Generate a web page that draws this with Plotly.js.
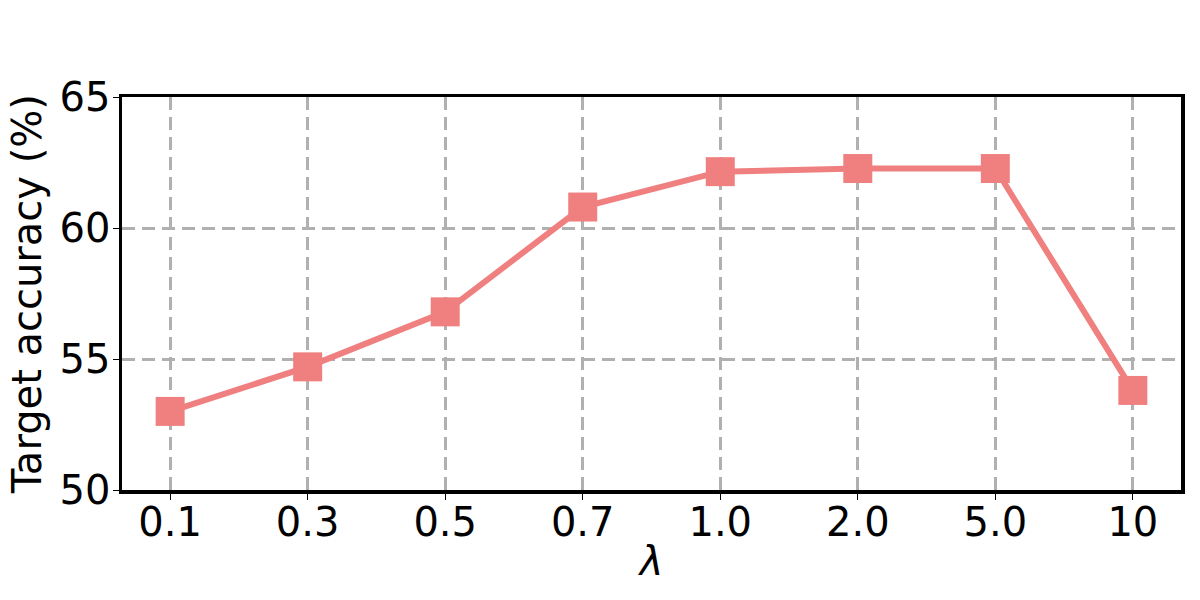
<!DOCTYPE html>
<html><head><meta charset="utf-8">
<script src="https://cdn.plot.ly/plotly-3.0.1.min.js"></script>
<style>html,body{margin:0;padding:0;background:#fff}#c{width:1200px;height:600px}</style>
</head><body><div id="c"></div>
<script>
const lambdas = ["0.1","0.3","0.5","0.7","1.0","2.0","5.0","10"];
const accuracy = [53.0, 54.7, 56.8, 60.8, 62.15, 62.27, 62.27, 53.8];
const yTicks = [50, 55, 60, 65];

const xIdx = lambdas.map((_, i) => i);
const trace = {
  x: xIdx, y: accuracy, type: 'scatter', mode: 'lines+markers',
  line: {color: '#F08080', width: 6},
  marker: {symbol: 'square', size: 29, color: '#F08080'},
  cliponaxis: false, showlegend: false
};
const font = {family: 'DejaVu Sans', size: 40, color: '#000'};
const layout = {
  width: 1200, height: 600,
  margin: {l: 122, r: 19, t: 97, b: 110},
  paper_bgcolor: '#fff', plot_bgcolor: '#fff',
  font: font,
  xaxis: {
    range: [-0.35, 7.35], tickvals: xIdx, ticktext: lambdas,
    showgrid: true, gridcolor: '#b0b0b0', gridwidth: 3, griddash: '13px,7px',
    showline: true, linecolor: '#000', linewidth: 3.5, mirror: true,
    ticks: 'outside', ticklen: 6, tickwidth: 1, tickcolor: '#000',
    ticklabelstandoff: -12,
    tickfont: font, zeroline: false,
    title: {text: '<i>λ</i>', font: {family: 'DejaVu Sans', size: 40, color: '#000'}, standoff: 4}
  },
  yaxis: {
    range: [50, 65], tickvals: yTicks,
    showgrid: true, gridcolor: '#b0b0b0', gridwidth: 3, griddash: '13px,7px',
    showline: true, linecolor: '#000', linewidth: 3.5, mirror: true,
    ticks: 'outside', ticklen: 6, tickwidth: 1, tickcolor: '#000',
    ticklabelstandoff: -6,
    tickfont: font, zeroline: false,
    title: {text: 'Target accuracy (%)', font: {family: 'DejaVu Sans', size: 40, color: '#000'}, standoff: 6}
  }
};
Plotly.newPlot('c', [trace], layout, {displayModeBar: false, staticPlot: true});
</script></body></html>
